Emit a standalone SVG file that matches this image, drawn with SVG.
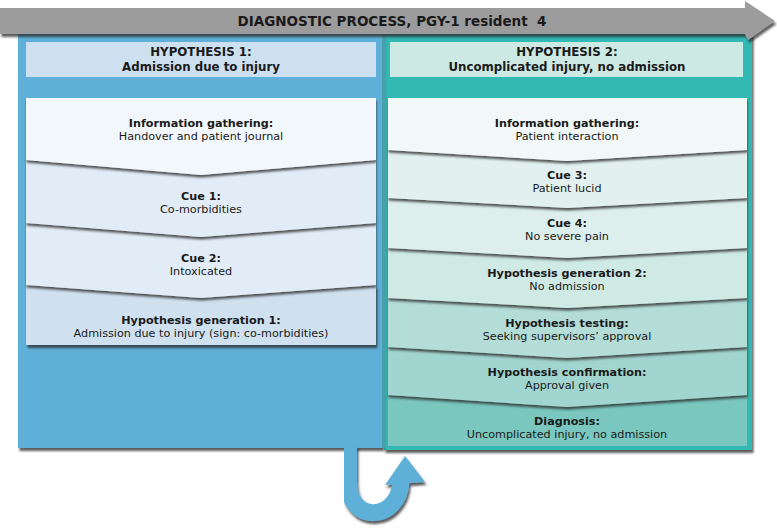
<svg xmlns="http://www.w3.org/2000/svg" width="777" height="528" viewBox="0 0 777 528">
<style>
text{font-family:"DejaVu Sans",Verdana,sans-serif;fill:#1a1a1a;text-anchor:middle}
.b{font-weight:bold;font-size:11.2px}
.r{font-size:11.2px}
.h{font-weight:bold;font-size:11.8px}
.t{font-weight:bold;font-size:13.5px}
</style>
<defs>
<filter id="sh" x="-5%" y="-5%" width="115%" height="130%">
<feDropShadow dx="1.5" dy="3" stdDeviation="1.3" flood-color="#2b2b2b" flood-opacity="0.75"/>
</filter>
<filter id="shs" x="-5%" y="-20%" width="115%" height="160%">
<feDropShadow dx="0.5" dy="2.5" stdDeviation="1.3" flood-color="#2b2b2b" flood-opacity="0.8"/>
</filter>
</defs>

<!-- panels -->
<g id="panel-right">
<rect x="384" y="34" width="368" height="416" fill="#33b9b3" filter="url(#sh)"/>
</g>
<g id="panel-left">
<rect x="18" y="34" width="365" height="414" fill="#5eb0d8" filter="url(#sh)"/>
<rect x="382" y="34" width="4" height="414" fill="#4a9fad"/>
</g>

<!-- top process arrow -->
<g id="process-arrow">
<polygon points="0,8 745,8 745,1 775,21 748,40 745,34 0,34" fill="#9c9c9c" filter="url(#sh)"/>
<text class="t" x="392" y="26">DIAGNOSTIC PROCESS, PGY-1 resident&#160; 4</text>
</g>

<!-- headers -->
<g id="hyp1-header">
<rect x="26" y="42" width="350" height="35" fill="#cde0f0"/>
<text class="h" x="201" y="56">HYPOTHESIS 1:</text>
<text class="h" x="201" y="71">Admission due to injury</text>
</g>
<g id="hyp2-header">
<rect x="390" y="42" width="353" height="35" fill="#cde9e4"/>
<text class="h" x="567" y="56">HYPOTHESIS 2:</text>
<text class="h" x="567" y="71">Uncomplicated injury, no admission</text>
</g>

<!-- left column -->
<g id="l4">
<polygon points="26,285 376,285 376,345 26,345" fill="#cfe0ef" filter="url(#sh)"/>
<text class="b" x="201" y="324">Hypothesis generation 1:</text>
<text class="r" x="201" y="337">Admission due to injury (sign: co-morbidities)</text>
</g>
<g id="l3">
<polygon points="26,223 376,223 376,285 201,298 26,285" fill="#e2ecf6" filter="url(#shs)"/>
<text class="b" x="201" y="262">Cue 2:</text>
<text class="r" x="201" y="275">Intoxicated</text>
</g>
<g id="l2">
<polygon points="26,160 376,160 376,223 201,237 26,223" fill="#e2ecf6" filter="url(#shs)"/>
<text class="b" x="201" y="200">Cue 1:</text>
<text class="r" x="201" y="213">Co-morbidities</text>
</g>
<g id="l1">
<polygon points="26,98 376,98 376,160 201,175 26,160" fill="#f2f7fb" filter="url(#shs)"/>
<text class="b" x="201" y="127">Information gathering:</text>
<text class="r" x="201" y="140">Handover and patient journal</text>
</g>

<!-- right column -->
<g id="r7">
<polygon points="388,395 747,395 747,446 388,446" fill="#79c7bf"/>
<text class="b" x="567" y="425">Diagnosis:</text>
<text class="r" x="567" y="438">Uncomplicated injury, no admission</text>
</g>
<g id="r6">
<polygon points="388,347 747,347 747,395 567,407 388,395" fill="#a1d5cf" filter="url(#shs)"/>
<text class="b" x="567" y="376">Hypothesis confirmation:</text>
<text class="r" x="567" y="389">Approval given</text>
</g>
<g id="r5">
<polygon points="388,298 747,298 747,347 567,358 388,347" fill="#b4ddd8" filter="url(#shs)"/>
<text class="b" x="567" y="327">Hypothesis testing:</text>
<text class="r" x="567" y="340">Seeking supervisors’ approval</text>
</g>
<g id="r4">
<polygon points="388,248 747,248 747,298 567,308 388,298" fill="#cfe9e5" filter="url(#shs)"/>
<text class="b" x="567" y="277">Hypothesis generation 2:</text>
<text class="r" x="567" y="290">No admission</text>
</g>
<g id="r3">
<polygon points="388,198 747,198 747,248 567,258 388,248" fill="#dcefec" filter="url(#shs)"/>
<text class="b" x="567" y="227">Cue 4:</text>
<text class="r" x="567" y="240">No severe pain</text>
</g>
<g id="r2">
<polygon points="388,150 747,150 747,198 567,208 388,198" fill="#e2f1ef" filter="url(#shs)"/>
<text class="b" x="567" y="179">Cue 3:</text>
<text class="r" x="567" y="192">Patient lucid</text>
</g>
<g id="r1">
<polygon points="388,98 747,98 747,150 567,161 388,150" fill="#f1f8f7" filter="url(#shs)"/>
<text class="b" x="567" y="127">Information gathering:</text>
<text class="r" x="567" y="140">Patient interaction</text>
</g>

<!-- connectors -->
<g id="connectors" filter="url(#sh)">
<path d="M348.5,446 V482 C348.5,524 399,522 401,481" fill="none" stroke="#5eb0d8" stroke-width="17"/>
<polygon points="405,456 385,485 425,482" fill="#5eb0d8"/>
</g>
</svg>
